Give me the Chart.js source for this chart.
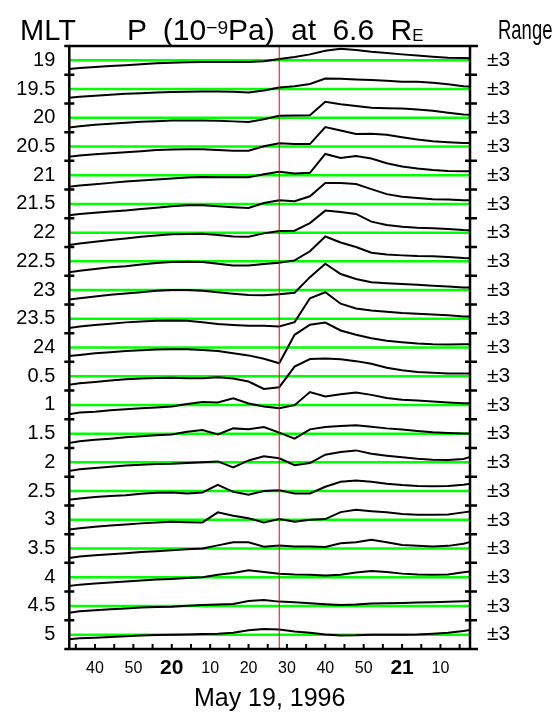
<!DOCTYPE html>
<html>
<head>
<meta charset="utf-8">
<script src="https://cdn.jsdelivr.net/npm/chart.js@4.4.1/dist/chart.umd.min.js"></script>
<style>
  body { margin: 0; background: #fff; }
  #wrap { position: relative; width: 559px; height: 720px; }
  .hdr { position: absolute; top: 15px; font: 30px/30px 'Liberation Sans', Arial, sans-serif; color: #000; white-space: nowrap; transform-origin: 0 0; }
  .hdr sup { font-size: 0.64em; vertical-align: 0.33em; line-height: 0; }
  .hdr sub { font-size: 0.56em; vertical-align: -0.03em; line-height: 0; }
  #title { left: 127px; word-spacing: 8px; }
  #mlt { left: 20px; font-size: 29px; }
  #range { left: 498px; font-size: 28px; transform: scaleX(0.66); }
</style>
</head>
<body>
<div id="wrap">
  <canvas id="myChart" width="559" height="720"></canvas>
  <div class="hdr" id="mlt">MLT</div>
  <div class="hdr" id="title">P (10<sup>−9</sup>Pa) at 6.6 R<sub>E</sub></div>
  <div class="hdr" id="range">Range</div>
</div>
<script>
// sample times, minutes after 19:00 UT on May 19, 1996 (4 min cadence)
const sampleMinutes = [32, 36, 40, 44, 48, 52, 56, 60, 64, 68, 72, 76, 80, 84,
  88, 92, 96, 100, 104, 108, 112, 116, 120, 124, 128, 132, 136, 140];

// pressure deviation from each row's baseline, 10^-9 Pa
const mlt19   = [-1.9, -1.6, -1.4, -1.2, -1.0, -0.8, -0.6, -0.5, -0.4, -0.35, -0.35, -0.35, -0.35, -0.2, 0.3, 0.7, 1.25, 2.0, 2.4, 2.15, 1.8, 1.55, 1.25, 1.0, 0.75, 0.55, 0.5, 0.4];
const mlt19_5 = [-1.9, -1.6, -1.4, -1.2, -1.0, -0.85, -0.7, -0.6, -0.55, -0.5, -0.5, -0.55, -0.7, -0.3, 0.35, 0.6, 1.05, 2.2, 2.15, 2.0, 1.9, 1.75, 1.55, 1.55, 1.3, 1.0, 0.6, 0.4];
const mlt20   = [-2.15, -1.75, -1.45, -1.25, -1.05, -0.85, -0.7, -0.55, -0.55, -0.55, -0.6, -0.75, -0.9, -0.3, 0.4, 0.5, 0.55, 3.35, 2.85, 2.45, 2.1, 2.0, 1.95, 1.75, 1.45, 1.05, 0.7, 0.55];
const mlt20_5 = [-2.25, -1.9, -1.6, -1.4, -1.2, -1.0, -0.75, -0.65, -0.55, -0.55, -0.75, -0.9, -0.9, 0.05, 0.7, 0.5, 0.5, 4.05, 3.35, 2.6, 2.65, 2.45, 1.95, 1.45, 1.1, 0.9, 0.75, 0.7];
const mlt21   = [-2.5, -2.15, -1.9, -1.6, -1.3, -1.1, -0.9, -0.7, -0.5, -0.35, -0.4, -0.4, -0.4, 0.2, 0.7, 0.35, 0.5, 4.45, 3.6, 4.0, 3.5, 2.5, 1.8, 1.4, 1.1, 0.9, 0.85, 0.85];
const mlt21_5 = [-2.45, -2.1, -1.85, -1.6, -1.35, -1.05, -0.8, -0.5, -0.3, -0.3, -0.5, -0.7, -0.85, 0.2, 0.75, 0.55, 1.6, 4.35, 4.35, 4.15, 3.1, 2.05, 1.5, 1.25, 1.0, 0.9, 0.75, 0.75];
const mlt22   = [-2.75, -2.25, -1.9, -1.55, -1.2, -0.85, -0.6, -0.35, -0.3, -0.25, -0.5, -0.8, -0.85, -0.15, 0.35, 0.4, 2.0, 4.6, 4.3, 3.9, 2.3, 1.6, 1.25, 1.0, 0.9, 0.75, 0.55, 0.45];
const mlt22_5 = [-2.4, -1.95, -1.6, -1.25, -1.0, -0.65, -0.35, -0.15, -0.1, -0.15, -0.5, -0.85, -0.85, -0.55, -0.3, 0.2, 2.1, 5.2, 3.95, 3.0, 1.8, 1.45, 1.25, 1.1, 1.05, 0.9, 0.7, 0.6];
const mlt23   = [-2.1, -1.7, -1.35, -1.0, -0.7, -0.45, -0.15, 0.0, 0.0, -0.15, -0.45, -0.75, -1.05, -1.1, -0.85, -0.55, 2.7, 5.5, 3.35, 2.3, 1.65, 1.45, 1.25, 1.1, 0.9, 0.75, 0.55, 0.5];
const mlt23_5 = [-2.1, -1.6, -1.3, -1.05, -0.75, -0.55, -0.4, -0.35, -0.4, -0.7, -1.1, -1.3, -1.45, -1.45, -1.6, -0.7, 4.3, 5.55, 3.15, 2.15, 1.75, 1.45, 1.2, 1.05, 0.9, 0.75, 0.5, 0.4];
const mlt24   = [-1.9, -1.55, -1.2, -1.0, -0.75, -0.55, -0.4, -0.35, -0.35, -0.5, -0.75, -1.2, -1.65, -2.35, -3.3, 2.65, 4.75, 5.2, 3.55, 2.65, 1.95, 1.4, 1.1, 0.85, 0.7, 0.65, 0.7, 0.7];
const mlt0_5  = [-1.9, -1.45, -1.2, -0.9, -0.65, -0.5, -0.35, -0.3, -0.4, -0.4, -0.2, -0.5, -1.1, -2.65, -2.3, 2.0, 3.6, 3.7, 3.55, 3.15, 2.6, 1.75, 1.25, 0.9, 0.7, 0.55, 0.55, 0.6];
const mlt1    = [-2.1, -1.6, -1.4, -1.1, -0.9, -0.7, -0.55, -0.35, 0.2, 0.6, 0.5, 1.4, 0.3, -0.35, -0.7, -0.05, 2.7, 1.75, 2.25, 2.6, 2.1, 1.45, 1.1, 0.9, 0.7, 0.5, 0.35, 0.35];
const mlt1_5  = [-2.1, -1.6, -1.3, -1.05, -0.75, -0.55, -0.35, -0.2, 0.4, 0.75, -0.15, 1.1, 0.9, 1.4, 0.2, -1.05, 0.9, 1.4, 1.6, 1.75, 1.45, 1.1, 0.85, 0.55, 0.3, 0.15, 0.05, 0.05];
const mlt2    = [-1.95, -1.45, -1.2, -0.9, -0.65, -0.5, -0.35, -0.3, -0.15, 0.0, 0.2, -1.05, 0.4, 1.25, 0.85, -0.6, -0.15, 1.6, 2.15, 2.5, 1.8, 1.4, 1.05, 0.75, 0.55, 0.5, 0.7, 1.65];
const mlt2_5  = [-1.9, -1.55, -1.25, -1.05, -0.85, -0.55, -0.35, -0.3, -0.5, -0.3, 1.3, -0.15, -0.75, 0.0, 0.15, -0.5, -0.5, 0.9, 1.95, 2.2, 1.95, 1.55, 1.25, 1.05, 1.0, 1.05, 1.3, 1.8];
const mlt3    = [-2.15, -1.75, -1.45, -1.2, -1.0, -0.75, -0.55, -0.4, -0.5, -0.55, 1.55, 0.85, 0.3, -0.55, 0.15, -0.4, 0.0, 0.15, 1.6, 2.1, 1.8, 1.55, 1.2, 1.05, 1.05, 1.1, 1.55, 2.0];
const mlt3_5  = [-2.1, -1.65, -1.4, -1.2, -1.0, -0.75, -0.55, -0.35, -0.15, 0.0, 0.65, 1.3, 1.3, 0.35, 0.65, 0.4, 0.4, 0.3, 1.1, 1.3, 1.8, 1.3, 0.75, 0.55, 0.4, 0.55, 1.0, 1.8];
const mlt4    = [-1.95, -1.55, -1.3, -1.1, -0.9, -0.7, -0.5, -0.35, -0.15, 0.0, 0.5, 0.9, 1.45, 1.1, 0.7, 0.55, 0.5, 0.35, 0.5, 1.0, 1.3, 1.1, 0.75, 0.55, 0.5, 0.55, 1.05, 1.4];
const mlt4_5  = [-1.55, -1.1, -0.9, -0.7, -0.55, -0.35, -0.2, -0.15, 0.05, 0.2, 0.3, 0.4, 1.05, 1.25, 0.9, 0.75, 0.55, 0.35, 0.2, 0.3, 0.5, 0.55, 0.6, 0.7, 0.75, 0.85, 1.0, 1.1];
const mlt5    = [-1.05, -0.75, -0.65, -0.5, -0.35, -0.2, -0.05, 0.0, 0.05, 0.15, 0.2, 0.4, 0.9, 1.2, 1.05, 0.65, 0.4, 0.05, -0.2, -0.15, 0.0, 0.0, 0.0, 0.05, 0.2, 0.4, 0.75, 1.25];

const rows = [mlt19, mlt19_5, mlt20, mlt20_5, mlt21, mlt21_5, mlt22, mlt22_5, mlt23, mlt23_5,
  mlt24, mlt0_5, mlt1, mlt1_5, mlt2, mlt2_5, mlt3, mlt3_5, mlt4, mlt4_5, mlt5];
const mltLabels = ['19', '19.5', '20', '20.5', '21', '21.5', '22', '22.5', '23', '23.5',
  '24', '0.5', '1', '1.5', '2', '2.5', '3', '3.5', '4', '4.5', '5'];
const rangeLabels = ['±3', '±3', '±3', '±3', '±3', '±3', '±3', '±3', '±3', '±3',
  '±3', '±3', '±3', '±3', '±3', '±3', '±3', '±3', '±3', '±3', '±3'];
const rangeHalf = 3;

const xTickMinutes = [35, 40, 45, 50, 55, 60, 65, 70, 75, 80, 85, 90, 95, 100, 105, 110, 115, 120, 125, 130, 135];
const xTickLabels = ['', '40', '', '50', '', '20', '', '10', '', '20', '', '30', '', '40', '', '50', '', '21', '', '10', ''];
const hourTicks = [60, 120];
const markerMinute = 88;   // 20:28 UT
const xMin = 33.3, xMax = 137.7;

Chart.defaults.font.family = "'Liberation Sans', Arial, sans-serif";
Chart.defaults.color = '#000';

const nRows = rows.length;
function rowCenter(i) { return nRows - 1 - i; }

const datasets = [];
rows.forEach((vals, i) => {
  const c = rowCenter(i);
  datasets.push({
    data: sampleMinutes.map((t, k) => ({ x: t, y: c + vals[k] / (2 * rangeHalf) })),
    borderColor: '#000', borderWidth: 2, order: 1
  });
  datasets.push({
    data: [{ x: xMin, y: c }, { x: xMax, y: c }],
    borderColor: '#00ff00', borderWidth: 2.5, order: 2
  });
});
datasets.push({
  data: [{ x: markerMinute, y: -0.5 }, { x: markerMinute, y: nRows - 0.5 }],
  borderColor: '#ee0000', borderWidth: 1, order: 0
});

const framePlugin = {
  id: 'frame',
  afterDraw(chart) {
    const { ctx, chartArea: a, scales } = chart;
    ctx.save();
    ctx.strokeStyle = '#000';
    ctx.lineWidth = 2.5;
    ctx.beginPath();
    ctx.moveTo(a.left - 5, a.top); ctx.lineTo(a.right + 8, a.top);
    ctx.moveTo(a.left - 5, a.bottom); ctx.lineTo(a.right + 8, a.bottom);
    ctx.moveTo(a.left, a.top); ctx.lineTo(a.left, a.bottom);
    ctx.moveTo(a.right, a.top); ctx.lineTo(a.right, a.bottom);
    for (let i = 0; i < nRows - 1; i++) {
      const y = scales.y.getPixelForValue(i + 0.5);
      ctx.moveTo(a.left - 5, y); ctx.lineTo(a.left + 5, y);
      ctx.moveTo(a.right - 5, y); ctx.lineTo(a.right + 7, y);
    }
    ctx.stroke();
    ctx.lineWidth = 2;
    ctx.beginPath();
    scales.x.ticks.forEach(t => {
      const x = scales.x.getPixelForValue(t.value);
      ctx.moveTo(x, a.bottom); ctx.lineTo(x, a.bottom - 5);
    });
    ctx.stroke();
    ctx.restore();
  }
};

const rowTicks = s => { s.ticks = mltLabels.map((_, i) => ({ value: rowCenter(i) })); };
const noGrid = { display: false, drawTicks: false };

new Chart(document.getElementById('myChart'), {
  type: 'line',
  data: { datasets },
  options: {
    responsive: false,
    animation: false,
    layout: { padding: { top: 46, left: 0, right: 0, bottom: 0 } },
    plugins: { legend: { display: false }, tooltip: { enabled: false } },
    elements: { point: { radius: 0 }, line: { tension: 0 } },
    scales: {
      x: {
        type: 'linear', min: xMin, max: xMax,
        grid: noGrid, border: { display: false },
        afterBuildTicks: s => { s.ticks = xTickMinutes.map(v => ({ value: v })); },
        afterFit: s => { s.height = 71; },
        ticks: {
          autoSkip: false, maxRotation: 0, padding: 10,
          callback: v => xTickLabels[xTickMinutes.indexOf(v)],
          font: ctx => hourTicks.includes(ctx.tick && ctx.tick.value)
            ? { size: 21, weight: 'bold', lineHeight: 0.914 }
            : { size: 16 }
        },
        title: { display: true, text: 'May 19, 1996', font: { size: 25 }, padding: { top: 0, bottom: 6 } }
      },
      y: {
        position: 'left', min: -0.5, max: nRows - 0.5,
        grid: noGrid, border: { display: false },
        afterBuildTicks: rowTicks,
        afterFit: s => { s.width = 69.3; },
        ticks: { autoSkip: false, padding: 14, font: { size: 20 },
          callback: v => mltLabels[nRows - 1 - Math.round(v)] }
      },
      y2: {
        position: 'right', min: -0.5, max: nRows - 0.5,
        grid: noGrid, border: { display: false },
        afterBuildTicks: rowTicks,
        afterFit: s => { s.width = 89; },
        ticks: { autoSkip: false, padding: 17, font: { size: 21 },
          callback: v => rangeLabels[nRows - 1 - Math.round(v)] }
      }
    }
  },
  plugins: [framePlugin]
});
</script>
</body>
</html>
